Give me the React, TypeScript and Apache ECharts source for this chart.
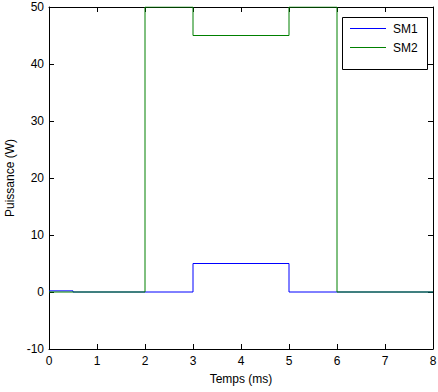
import React, { useEffect, useRef } from "react";
import * as echarts from "echarts";

const sm1Time = [0, 0.5, 0.5, 3, 3, 5, 5, 8];
const sm1Power = [0.2, 0.2, 0, 0, 5, 5, 0, 0];
const sm2Time = [0, 2, 2, 3, 3, 5, 5, 6, 6, 8];
const sm2Power = [0, 0, 50, 50, 45, 45, 50, 50, 0, 0];
const seriesNames = ["SM1", "SM2"];
const seriesColors = ["#0000ff", "#008000"];
const xLabel = "Temps (ms)";
const yLabel = "Puissance (W)";

const FONT = "'Liberation Sans', Arial, Helvetica, sans-serif";

export default function App() {
  const ref = useRef<HTMLDivElement>(null);
  useEffect(() => {
    if (!ref.current) return;
    const chart = echarts.init(ref.current, null, { renderer: "svg" });
    const zip = (xs: number[], ys: number[]) => xs.map((x, i) => [x, ys[i]]);
    const axisCommon = {
      type: "value" as const,
      axisLine: { show: true, onZero: false, lineStyle: { color: "#000", width: 1 } },
      axisTick: { show: true, inside: true, length: 5, lineStyle: { color: "#000", width: 1 } },
      splitLine: { show: false },
    };
    const legendItems: any[] = [];
    seriesNames.forEach((n, i) => {
      const y = 28.5 + i * 19;
      legendItems.push({
        type: "line",
        shape: { x1: 350, y1: y, x2: 386, y2: y },
        style: { stroke: seriesColors[i], lineWidth: 1 },
        z: 11,
      });
      legendItems.push({
        type: "text",
        x: 393,
        y: y,
        style: {
          text: n,
          fill: "#000",
          font: `12px ${FONT}`,
          textVerticalAlign: "middle",
          verticalAlign: "middle",
        },
        z: 11,
      });
    });
    chart.setOption({
      animation: false,
      backgroundColor: "#fff",
      grid: { left: 49, right: 5, top: 7, bottom: 43, containLabel: false, outerBoundsMode: "none" },
      xAxis: [
        {
          ...axisCommon,
          min: 0,
          max: 8,
          interval: 1,
          position: "bottom",
          name: xLabel,
          nameLocation: "middle",
          nameGap: 24,
          nameTextStyle: { color: "#000", fontSize: 12, fontFamily: FONT },
          axisLabel: { color: "#000", fontSize: 12, fontFamily: FONT, margin: 6 },
        },
        {
          ...axisCommon,
          min: 0,
          max: 8,
          interval: 1,
          position: "top",
          axisLabel: { show: false },
        },
      ],
      yAxis: [
        {
          ...axisCommon,
          min: -10,
          max: 50,
          interval: 10,
          position: "left",
          name: yLabel,
          nameLocation: "middle",
          nameGap: 31,
          nameTextStyle: { color: "#000", fontSize: 12, fontFamily: FONT },
          axisLabel: { color: "#000", fontSize: 12, fontFamily: FONT, margin: 5 },
        },
        {
          ...axisCommon,
          min: -10,
          max: 50,
          interval: 10,
          position: "right",
          axisLabel: { show: false },
        },
      ],
      graphic: [
        {
          type: "rect",
          shape: { x: 342.5, y: 17.5, width: 85, height: 52 },
          style: { fill: "#fff", stroke: "#000", lineWidth: 1 },
          z: 10,
        },
        ...legendItems,
      ],
      series: [
        {
          name: seriesNames[0],
          type: "line",
          data: zip(sm1Time, sm1Power),
          symbol: "none",
          lineStyle: { color: seriesColors[0], width: 1 },
          itemStyle: { color: seriesColors[0] },
          z: 2,
        },
        {
          name: seriesNames[1],
          type: "line",
          data: zip(sm2Time, sm2Power),
          symbol: "none",
          lineStyle: { color: seriesColors[1], width: 1 },
          itemStyle: { color: seriesColors[1] },
          z: 3,
        },
      ],
    });
    return () => chart.dispose();
  }, []);
  return (
    <div
      ref={ref}
      style={{ position: "absolute", left: 0, top: 0, width: 438, height: 392 }}
    />
  );
}
